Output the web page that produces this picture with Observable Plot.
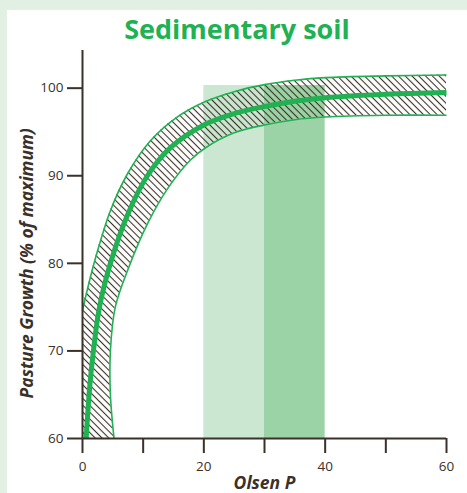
<!DOCTYPE html>
<html><head><meta charset="utf-8">
<script src="https://cdn.jsdelivr.net/npm/d3@7"></script>
<script src="https://cdn.jsdelivr.net/npm/@observablehq/plot@0.6"></script>
<style>
html,body{margin:0;padding:0;background:#e2f0e4;width:467px;height:493px;overflow:hidden;font-family:"Open Sans",sans-serif;}
#panel{position:absolute;left:7px;top:10px;width:460px;height:483px;background:#fff;}
#title{position:absolute;left:0;top:15px;width:474px;text-align:center;font-weight:700;font-size:27px;line-height:27px;color:#1fb152;}
#chart{position:absolute;left:0;top:0;}
</style></head><body>
<div id="panel"></div>
<div id="title">Sedimentary soil</div>
<div id="chart"></div>
<script>
// Response curve (Olsen P vs % of maximum pasture growth)
const centerP = [0.6, 1.2, 1.8, 2.8, 4.6, 7.4, 10.7, 14.5, 20, 25, 30, 35, 40, 50, 60];
const centerV = [60, 66, 70, 75, 80, 85.5, 90, 93.2, 95.8, 97.1, 97.9, 98.5, 98.9, 99.3, 99.5];
// Upper edge of the uncertainty band
const upperP = [0, 0, 0.8, 2.1, 4.6, 7.4, 11.2, 15.6, 20, 25, 30, 35, 40, 50, 60];
const upperV = [60, 74.6, 77, 80.5, 86, 90.2, 94, 96.7, 98.4, 99.6, 100.4, 100.9, 101.2, 101.4, 101.5];
// Lower edge of the uncertainty band
const lowerP = [5.2, 4.6, 4.6, 5.4, 7.6, 10.7, 14, 17.8, 20.3, 25, 30, 35, 40, 50, 60];
const lowerV = [60, 65, 70, 75, 79.5, 84.5, 88.5, 91.8, 93.2, 94.9, 95.8, 96.4, 96.7, 96.9, 96.9];
// Optimum ranges
const bandLight = [20, 30];
const bandDark = [30, 40];
const bandTop = 100.3;
// Axes
const xTicks = [0, 10, 20, 30, 40, 50, 60];
const xLabels = [0, 20, 40, 60];
const yTicks = [60, 70, 80, 90, 100];
const yAxisTop = 104.3;
const xTitle = "Olsen P";
const yTitle = "Pasture Growth (% of maximum)";

const green = "#1fb152";
const ink = "#3a3129";

const center = centerP.map((p, i) => ({P: p, V: centerV[i]}));
const upper = upperP.map((p, i) => ({P: p, V: upperV[i]}));
const lower = lowerP.map((p, i) => ({P: p, V: lowerV[i]}));
const hatch = upperP.map((p, i) => ({ux: p, uy: upperV[i], lx: lowerP[i], ly: lowerV[i]}));

const chart = Plot.plot({
  width: 467, height: 493,
  marginLeft: 82, marginRight: 21, marginTop: 50, marginBottom: 55,
  x: {domain: [0, 60]},
  y: {domain: [60, yAxisTop]},
  style: {background: "transparent", fontFamily: "'Open Sans', sans-serif", color: ink, overflow: "visible"},
  marks: [
    Plot.rectY([bandLight], {x1: d => d[0], x2: d => d[1], y1: 60, y2: bandTop, fill: "#cbe7d1"}),
    Plot.rectY([bandDark], {x1: d => d[0], x2: d => d[1], y1: 60, y2: bandTop, fill: "#9cd3a6"}),
    Plot.area(hatch, {x1: "ux", y1: "uy", x2: "lx", y2: "ly", fill: "url(#hatch)", curve: "catmull-rom", clip: true}),
    Plot.line(upper.slice(1), {x: "P", y: "V", stroke: green, strokeWidth: 1.6, curve: "catmull-rom", strokeLinecap: "butt"}),
    Plot.line(lower, {x: "P", y: "V", stroke: green, strokeWidth: 1.6, curve: "catmull-rom", strokeLinecap: "butt"}),
    Plot.line(center, {x: "P", y: "V", stroke: green, strokeWidth: 5, curve: "catmull-rom", strokeLinecap: "butt"}),
    Plot.ruleX([0], {y1: 60, y2: yAxisTop, stroke: ink, strokeWidth: 2}),
    Plot.ruleY([60], {x1: 0, x2: 60, stroke: ink, strokeWidth: 2}),
    Plot.axisY({ticks: yTicks, tickSize: 15, tickPadding: 4, fontSize: 13.5, strokeWidth: 2, stroke: ink, label: null}),
    Plot.axisX({ticks: xTicks, tickSize: 15, tickPadding: 8, fontSize: 13.5, strokeWidth: 2, stroke: ink, label: null,
      tickFormat: d => xLabels.includes(d) ? String(d) : ""}),
    Plot.text([xTitle], {x: 30, y: 60, text: d => d, dy: 45, fontSize: 17.5, fontWeight: "bold", fontStyle: "italic", fill: ink}),
    Plot.text([yTitle], {x: 0, y: 80, text: d => d, dx: -55, rotate: -90, fontSize: 17.5, fontWeight: "bold", fontStyle: "italic", fill: ink})
  ]
});

const svg = d3.select(chart);
const defs = svg.insert("defs", ":first-child");
const pat = defs.append("pattern").attr("id", "hatch").attr("patternUnits", "userSpaceOnUse")
  .attr("width", 4.8).attr("height", 4.8).attr("patternTransform", "rotate(-45)");
pat.append("line").attr("x1", 2.4).attr("y1", -1).attr("x2", 2.4).attr("y2", 6)
  .attr("stroke", "#3b3026").attr("stroke-width", 1.1);

document.getElementById("chart").appendChild(chart);
</script></body></html>
